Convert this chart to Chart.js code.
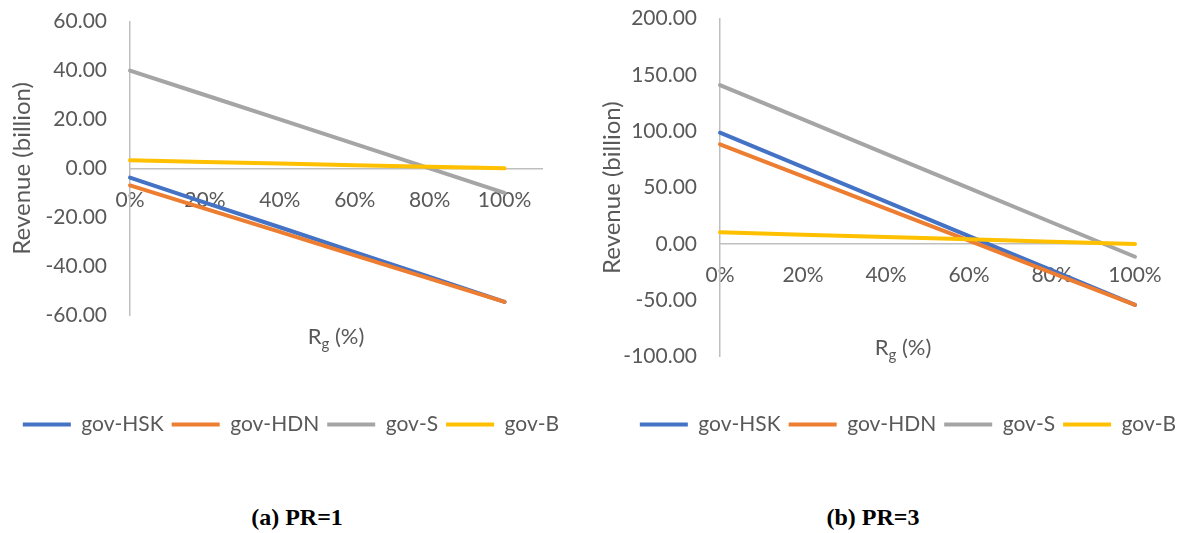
<!DOCTYPE html>
<html>
<head>
<meta charset="utf-8">
<script src="https://cdn.jsdelivr.net/npm/chart.js@4.4.0/dist/chart.umd.min.js"></script>
<style>
  html, body { margin: 0; overflow: hidden; }
  body { width: 1181px; height: 533px; background: #fff; position: relative; }
  .box { position: absolute; top: 0; height: 445px; }
  .cap { position: absolute; top: 504px; width: 240px; text-align: center;
         font: bold 24px "Liberation Serif", "Times New Roman", serif; color: #000; }
</style>
</head>
<body>
<div class="box" style="left:0;width:582px"><canvas id="chartA" width="582" height="445"></canvas></div>
<div class="box" style="left:590px;width:636px"><canvas id="chartB" width="636" height="445"></canvas></div>
<div class="cap" style="left:177px">(a) PR=1</div>
<div class="cap" style="left:753px">(b) PR=3</div>
<script>
// R_g levels (x axis), also used as the tick positions
const rgLevels = [0, 0.2, 0.4, 0.6, 0.8, 1.0];
const seriesNames = ['gov-HSK', 'gov-HDN', 'gov-S', 'gov-B'];
const seriesColors = ['#4472C4', '#ED7D31', '#A5A5A5', '#FFC000'];

// (a) PR=1
const hskA = [-3.8, -14.0, -24.1, -34.3, -44.4, -54.6];
const hdnA = [-7.0, -16.5, -26.0, -35.6, -45.1, -54.6];
const govSA = [40.0, 30.0, 20.0, 10.0, 0.0, -10.0];
const govBA = [3.3, 2.6, 2.0, 1.3, 0.7, 0.0];

// (b) PR=3
const hskB = [98.8, 68.2, 37.7, 7.1, -23.4, -54.0];
const hdnB = [88.5, 60.0, 31.5, 3.0, -25.5, -54.0];
const govSB = [141.1, 110.6, 80.1, 49.6, 19.1, -11.3];
const govBB = [10.4, 8.3, 6.2, 4.2, 2.1, 0.0];

Chart.defaults.font.family = 'Lato';
Chart.defaults.color = '#595959';

// draws "R" + subscript "g" + " (%)"
const rgTitle = {
  id: 'rgTitle',
  afterDraw(chart, args, opts) {
    const {ctx, chartArea} = chart;
    const cx = (chartArea.left + chartArea.right) / 2 + opts.dx;
    const cy = chartArea.bottom + opts.dy;
    ctx.save();
    ctx.fillStyle = '#595959';
    ctx.textBaseline = 'middle';
    ctx.textAlign = 'left';
    ctx.font = '22px Lato';
    const wR = ctx.measureText('R').width;
    const wP = ctx.measureText(' (%)').width;
    ctx.font = '15px Lato';
    const wG = ctx.measureText('g').width;
    let x = cx - (wR + wG + wP) / 2;
    ctx.font = '22px Lato';
    ctx.fillText('R', x, cy);
    x += wR;
    ctx.font = '15px Lato';
    ctx.fillText('g', x, cy + 7);
    x += wG;
    ctx.font = '22px Lato';
    ctx.fillText(' (%)', x, cy);
    ctx.restore();
  }
};

function makeChart(canvas, values, cfg) {
  const datasets = values.map((vals, i) => ({
    label: seriesNames[i],
    data: rgLevels.map((r, k) => ({x: r, y: vals[k]})),
    borderColor: seriesColors[i],
    backgroundColor: seriesColors[i],
    borderWidth: 4,
    borderCapStyle: 'round',
    pointRadius: 0,
    showLine: true,
    clip: false,
    order: 4 - i
  }));
  return new Chart(canvas, {
    type: 'scatter',
    data: {datasets},
    plugins: [rgTitle],
    options: {
      responsive: false,
      animation: false,
      layout: {padding: {top: cfg.top, left: 0, right: 0, bottom: 0}},
      plugins: {
        tooltip: {enabled: false},
        legend: {
          position: 'bottom',
          labels: {
            usePointStyle: true,
            pointStyle: 'line',
            pointStyleWidth: 48,
            padding: 8,
            color: '#595959',
            font: {size: 21},
            sort: (a, b) => a.datasetIndex - b.datasetIndex
          }
        },
        title: {
          display: true,
          position: 'bottom',
          weight: 500,
          text: '',
          font: {size: 10, lineHeight: 1},
          padding: {top: cfg.gap, bottom: 0}
        },
        rgTitle: {dx: cfg.rgDx, dy: cfg.rgDy}
      },
      scales: {
        x: {
          type: 'linear',
          position: {y: 0},
          min: 0,
          max: cfg.xMax,
          grid: {display: false, drawTicks: false},
          border: {display: true, color: '#BFBFBF', width: 1.5},
          afterBuildTicks: s => { s.ticks = rgLevels.map(v => ({value: v})); },
          afterFit: s => { s.paddingLeft = 0; s.paddingRight = 0; },
          ticks: {
            padding: 19,
            color: '#595959',
            font: {size: 21},
            maxRotation: 0,
            autoSkip: false,
            callback: v => Math.round(v * 100) + '%'
          }
        },
        y: {
          position: 'left',
          min: cfg.yMin,
          max: cfg.yMax,
          grid: {display: false, drawTicks: false},
          border: {display: true, color: '#BFBFBF', width: 1.5},
          afterFit: s => { s.width = 130; s.paddingTop = 0; s.paddingBottom = 0; },
          ticks: {
            stepSize: cfg.yStep,
            padding: 23,
            color: '#595959',
            font: {size: 21},
            callback: v => v.toFixed(2)
          },
          title: {
            display: true,
            text: 'Revenue (billion)',
            color: '#595959',
            font: {size: 24},
            padding: {top: 7.6, bottom: 0}
          }
        },
        // empty right-hand axis, only keeps the plot clear of the right edge
        yr: {
          type: 'linear',
          position: 'right',
          grid: {display: false, drawTicks: false},
          border: {display: false},
          ticks: {display: false},
          afterFit: s => { s.width = cfg.rightW; s.paddingTop = 0; s.paddingBottom = 0; }
        }
      }
    }
  });
}

makeChart(document.getElementById('chartA'), [hskA, hdnA, govSA, govBA], {
  top: 21.7, rightW: 40, gap: 81, xMax: 1.1,
  yMin: -60, yMax: 60, yStep: 20, rgDx: 0, rgDy: 22
});
makeChart(document.getElementById('chartB'), [hskB, hdnB, govSB, govBB], {
  top: 18.7, rightW: 91, gap: 39.3, xMax: 1.0,
  yMin: -100, yMax: 200, yStep: 50, rgDx: -24.5, rgDy: -9
});
</script>
</body>
</html>
